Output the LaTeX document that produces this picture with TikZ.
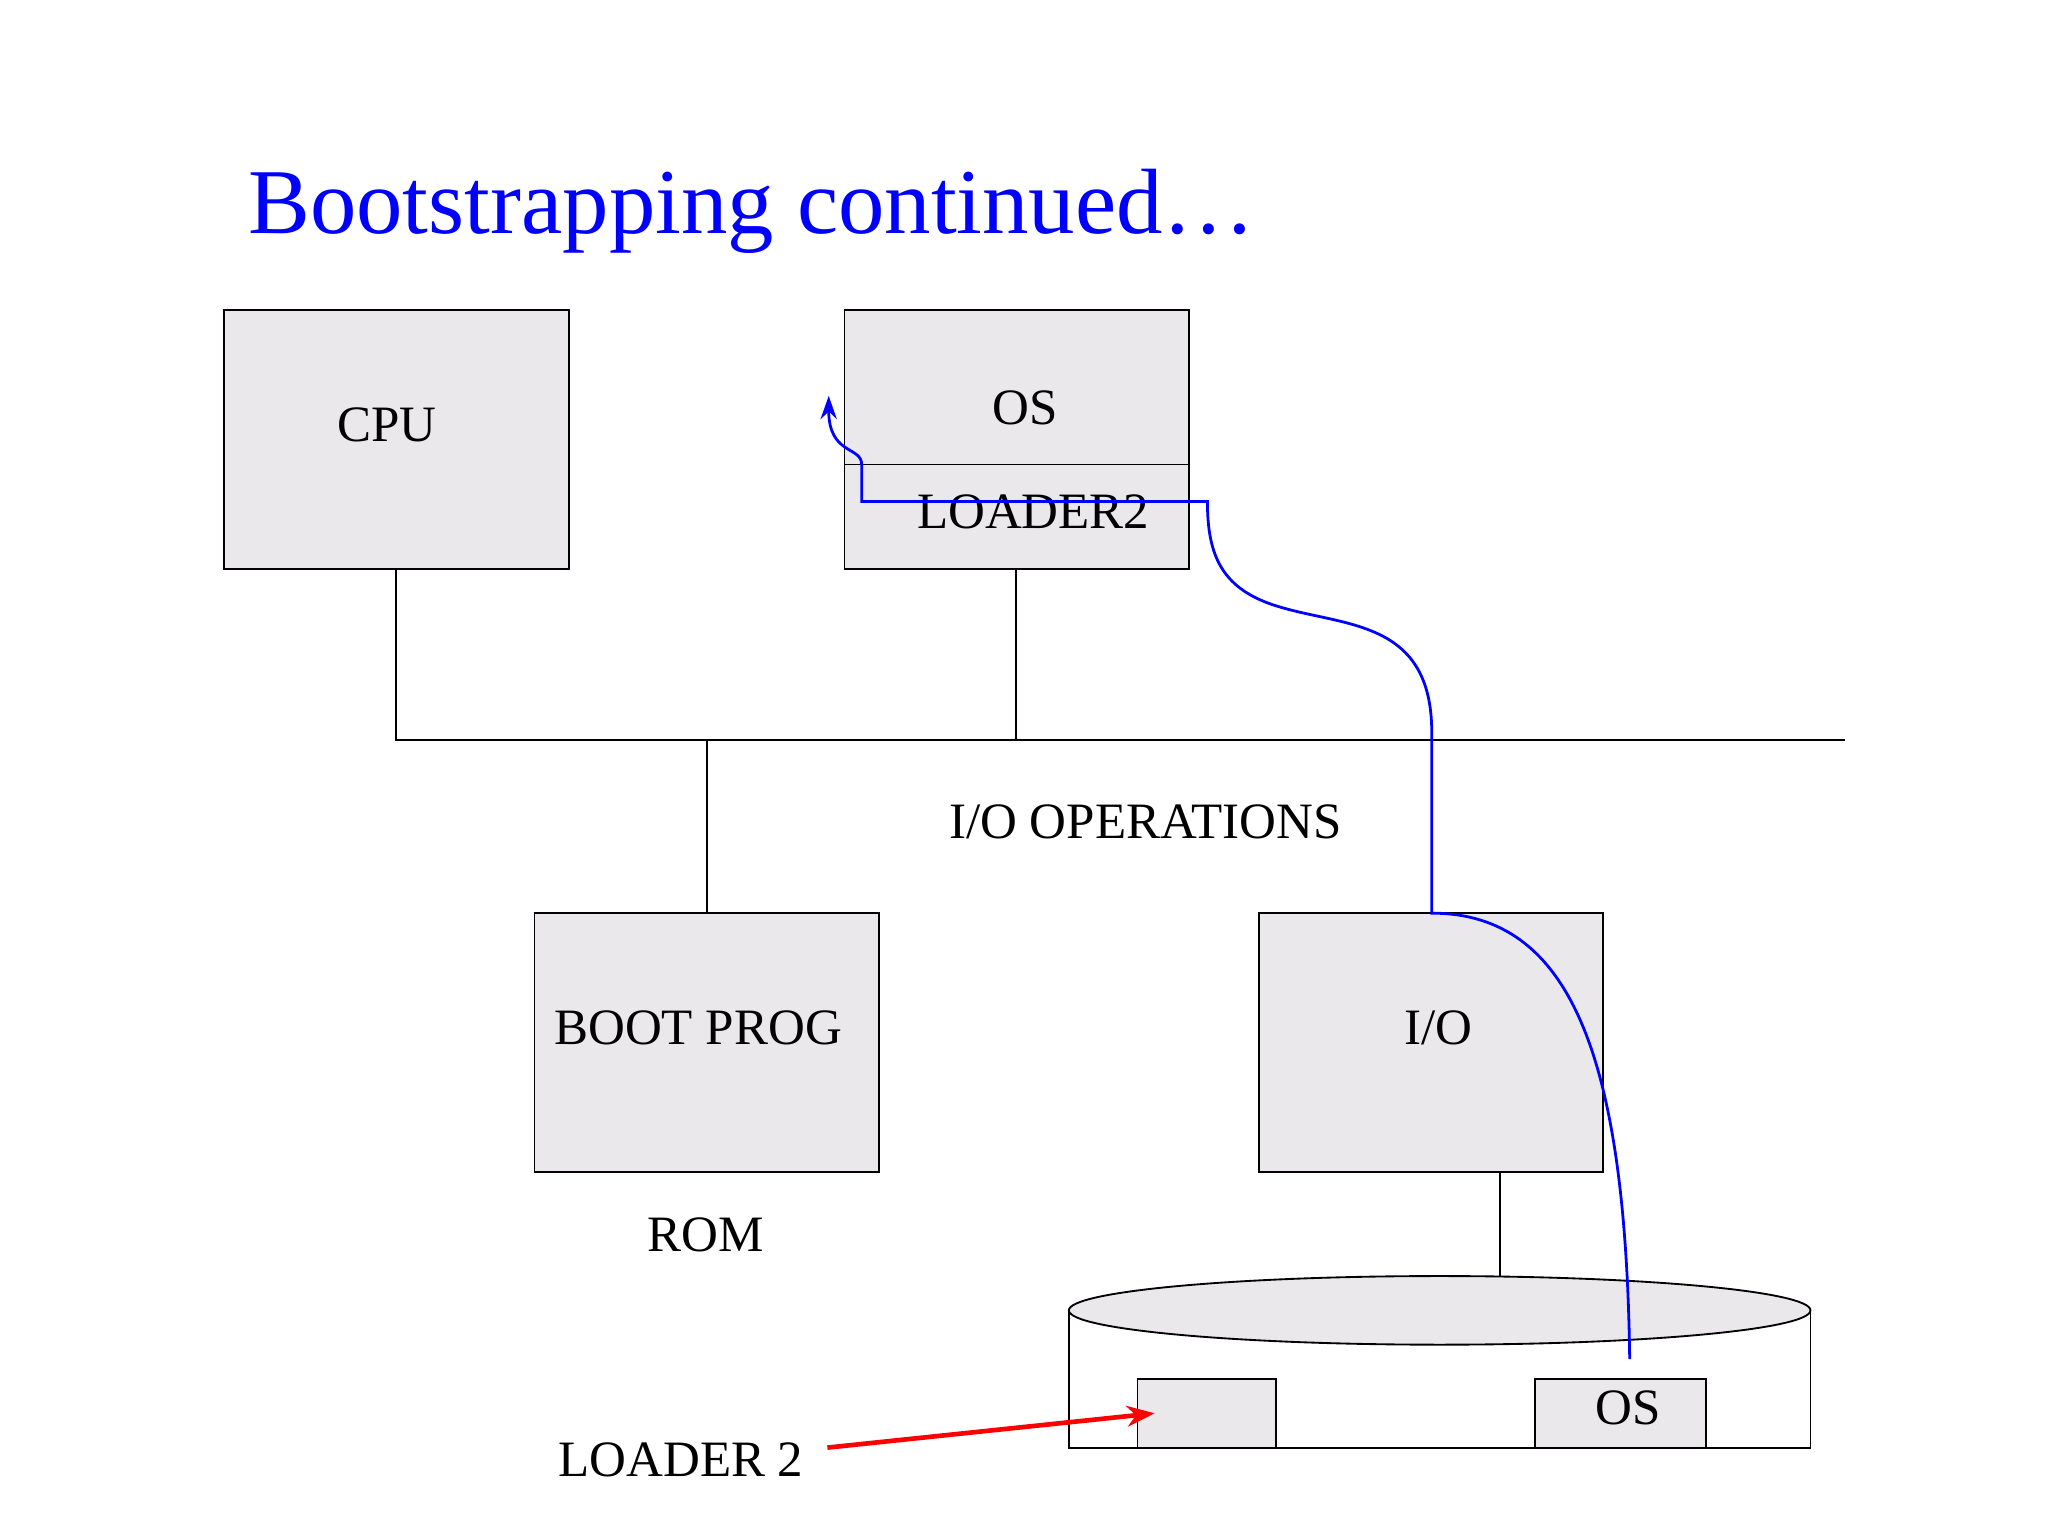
\documentclass[tikz,border=0pt]{standalone}
\usepackage{fontspec}
\setmainfont{Liberation Serif}
\usetikzlibrary{arrows.meta}
\begin{document}
\begin{tikzpicture}[x=0.02cm,y=-0.02cm,
  box/.style={draw=black,fill=boxgray,line width=0.8pt},
  lbl/.style={font=\fontsize{22}{25}\selectfont},
  wire/.style={draw=black,line width=0.8pt}]
\definecolor{boxgray}{HTML}{EAE8EB}
\useasboundingbox (0,0) rectangle (1552,1164);
\node[anchor=west,text=blue,font=\fontsize{40}{44}\selectfont] (title) at (182,160) {Bootstrapping continued\ldots};
\path[box] (170,235) rectangle (431,431);
\node[lbl] (cpu) at (293,322) {CPU};
\path[box] (640,235) rectangle (901,431);
\draw[wire] (640,352) -- (901,352);
\node[lbl] (os) at (777,309) {OS};
\node[lbl] (ld2) at (783,388) {LOADER2};
\coordinate (b1) at (300,561); \coordinate (b2) at (1398,561);
\draw[wire] (300,431) -- (b1) -- (b2);
\draw[wire] (770,431) -- (770,561);
\draw[wire] (536,561) -- (536,692);
\node[lbl] (ioop) at (868,623) {I/O OPERATIONS};
\path[box] (405,692) rectangle (666,888);
\node[lbl] (boot) at (529,779) {BOOT PROG};
\node[lbl] (rom) at (535,936) {ROM};
\path[box] (954,692) rectangle (1215,888);
\node[lbl] (io) at (1090,779) {I/O};
\draw[wire] (1137,888) -- (1137,967);
\draw[wire] (810,993) -- (810,1097) -- (1372,1097) -- (1372,993);
\path[box] (1091,993) ellipse [x radius=281, y radius=26];
\path[box] (862,1045) rectangle (967,1097);
\coordinate (ldbox) at (875,1071);
\path[box] (1163,1045) rectangle (1293,1097);
\node[lbl] (os2) at (1234,1067) {OS};
\node[lbl] (ldtxt) at (516,1106) {LOADER 2};
\draw[red,line width=2pt,-{Stealth[length=12pt,width=9pt]}] (627,1097) -- (ldbox);
\draw[blue,line width=1.2pt,-{Stealth[length=10pt,width=7pt]}]
  (1235,1030) .. controls (1232,800) and (1190,692) .. (1085,692) -- (1085,555)
  .. controls (1085,470) and (1020,475) .. (970,460)
  .. controls (925,447) and (915,420) .. (915,380) -- (653,380) -- (653,352)
  .. controls (653,338) and (628,345) .. (628,300);
\end{tikzpicture}
\end{document}
